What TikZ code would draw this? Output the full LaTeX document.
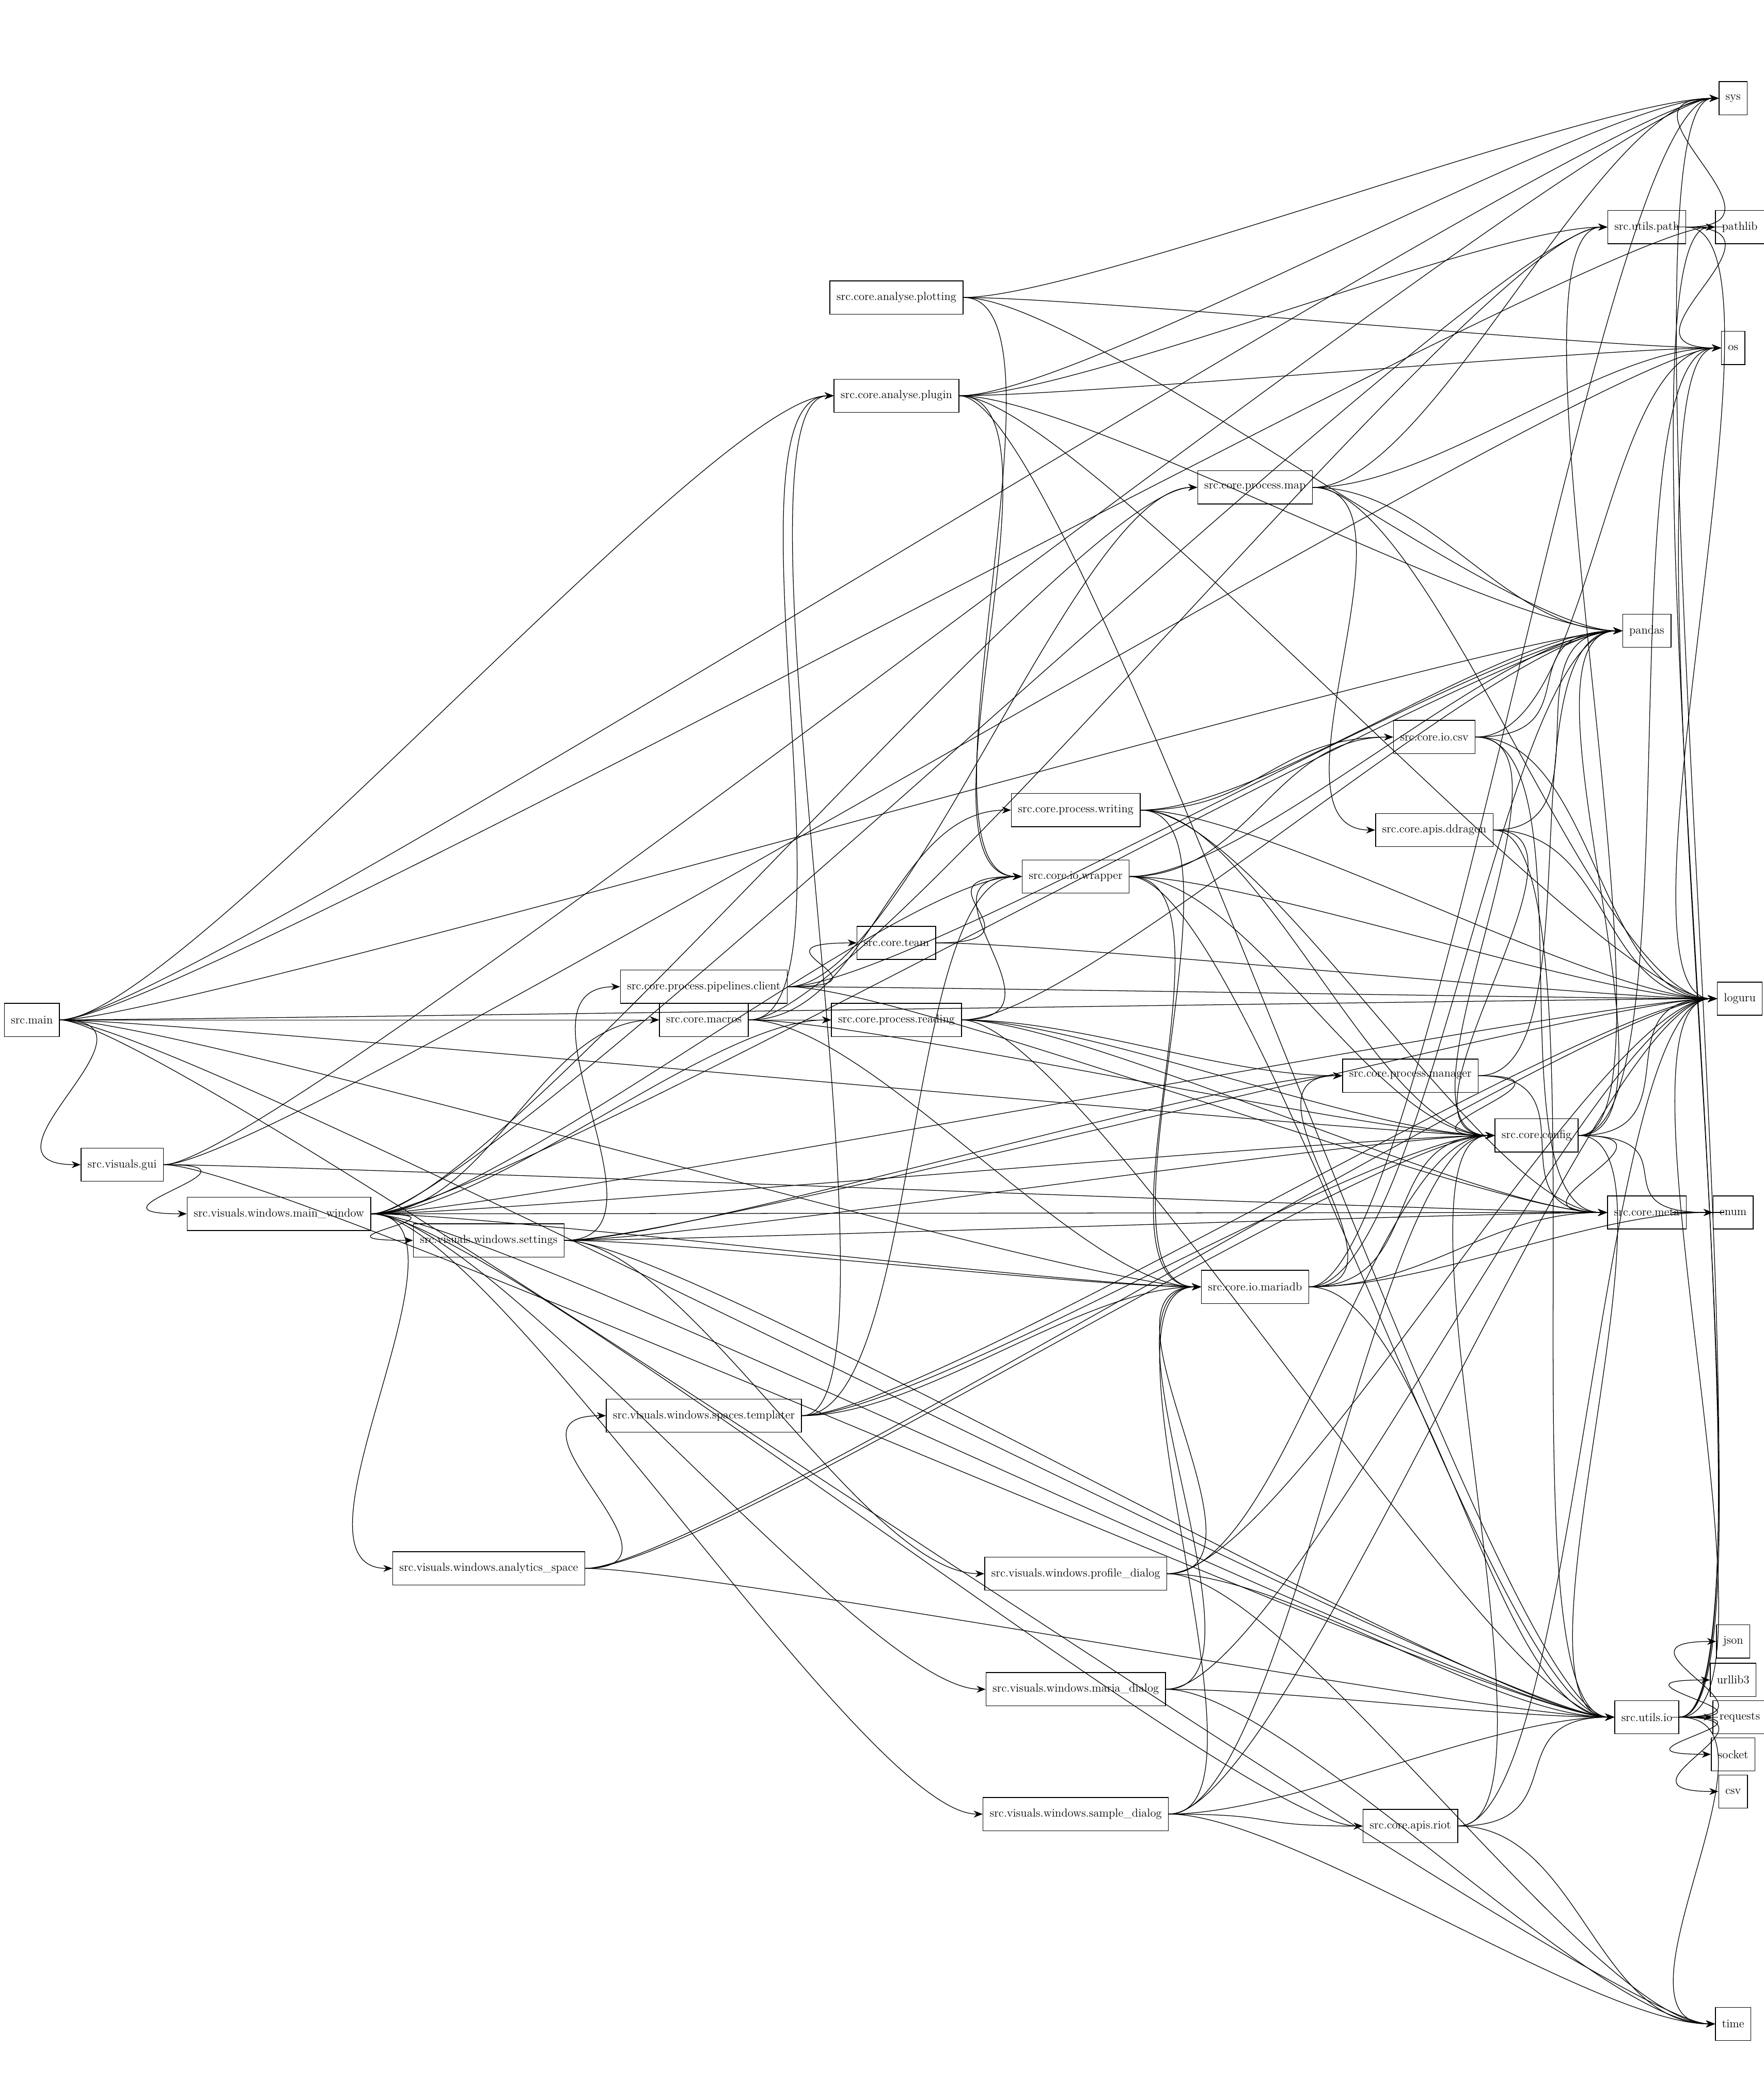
\documentclass[tikz,border=0pt]{standalone}
\usetikzlibrary{arrows.meta}
\begin{document}
\begin{tikzpicture}[x=0.05cm,y=-0.05cm,
  nd/.style={draw,line width=0.8pt,font=\fontsize{12.5}{14}\selectfont,minimum height=1.25cm,inner xsep=0.25cm},
  e/.style={line width=0.7pt,-{Stealth[length=0.34cm,width=0.26cm]}}]
\useasboundingbox (0,0) rectangle (1328,1567);
\node[nd] (main) at (24,768) {src.main};
\node[nd] (gui) at (92,877) {src.visuals.gui};
\node[nd] (mw) at (210,914) {src.visuals.windows.main\_window};
\node[nd] (set) at (368,934) {src.visuals.windows.settings};
\node[nd] (mac) at (530,768) {src.core.macros};
\node[nd] (pcl) at (530,743) {src.core.process.pipelines.client};
\node[nd] (rd) at (675,768) {src.core.process.reading};
\node[nd] (team) at (675,710) {src.core.team};
\node[nd] (wr) at (810,660) {src.core.io.wrapper};
\node[nd] (wri) at (810,610) {src.core.process.writing};
\node[nd] (plt) at (675,224) {src.core.analyse.plotting};
\node[nd] (plg) at (675,298) {src.core.analyse.plugin};
\node[nd] (map) at (945,367) {src.core.process.map};
\node[nd] (icsv) at (1080,555) {src.core.io.csv};
\node[nd] (dd) at (1080,625) {src.core.apis.ddragon};
\node[nd] (man) at (1062,810) {src.core.process.manager};
\node[nd] (cfg) at (1157,855) {src.core.config};
\node[nd] (mdb) at (945,969) {src.core.io.mariadb};
\node[nd] (meta) at (1240,913) {src.core.meta};
\node[nd] (up) at (1240,171) {src.utils.path};
\node[nd] (uio) at (1240,1293) {src.utils.io};
\node[nd] (tpl) at (530,1066) {src.visuals.windows.spaces.templater};
\node[nd] (ana) at (368,1181) {src.visuals.windows.analytics\_space};
\node[nd] (pd) at (810,1185) {src.visuals.windows.profile\_dialog};
\node[nd] (md) at (810,1272) {src.visuals.windows.maria\_dialog};
\node[nd] (sd) at (810,1366) {src.visuals.windows.sample\_dialog};
\node[nd] (riot) at (1062,1375) {src.core.apis.riot};
\node[nd] (sys) at (1305,74) {sys};
\node[nd] (pl) at (1310,171) {pathlib};
\node[nd] (os) at (1305,262) {os};
\node[nd] (pd2) at (1240,475) {pandas};
\node[nd] (lg) at (1310,752) {loguru};
\node[nd] (en) at (1305,913) {enum};
\node[nd] (js) at (1305,1236) {json};
\node[nd] (ul) at (1305,1265) {urllib3};
\node[nd] (rq) at (1310,1293) {requests};
\node[nd] (so) at (1305,1321) {socket};
\node[nd] (cs) at (1305,1349) {csv};
\node[nd] (tm) at (1305,1524) {time};
\foreach \a/\b in {main/sys,main/pl,main/pd2,main/plg,main/mac,main/gui,main/mdb,main/uio,main/lg,main/tm,main/cfg,
 gui/sys,gui/os,gui/mw,gui/meta,gui/uio,
 mw/up,mw/lg,mw/map,mw/pd2,mw/wr,mw/cfg,mw/mac,mw/rd,mw/set,mw/mdb,mw/ana,mw/md,mw/sd,mw/riot,mw/uio,mw/meta,
 set/pcl,set/man,set/meta,set/mdb,set/pd,set/cfg,set/uio,set/lg,
 mac/up,mac/plg,mac/rd,mac/mdb,mac/cfg,mac/wri,
 pcl/team,pcl/lg,pcl/meta,pcl/map,pcl/pd2,
 rd/wr,rd/man,rd/cfg,rd/meta,rd/pd2,rd/uio,
 team/wr,team/lg,
 wr/icsv,wr/mdb,wr/cfg,wr/pd2,wr/lg,wr/uio,
 wri/icsv,wri/pd2,wri/mdb,wri/cfg,wri/meta,wri/lg,
 plt/sys,plt/os,plt/pd2,plt/wr,
 plg/sys,plg/up,plg/os,plg/lg,plg/pd2,plg/wr,plg/uio,
 map/sys,map/os,map/pd2,map/lg,map/dd,
 icsv/pd2,icsv/os,icsv/lg,icsv/cfg,icsv/meta,
 dd/pd2,dd/cfg,dd/lg,dd/uio,
 man/cfg,man/meta,man/pd2,
 cfg/up,cfg/pd2,cfg/lg,cfg/meta,cfg/en,cfg/uio,cfg/os,
 mdb/sys,mdb/man,mdb/cfg,mdb/meta,mdb/uio,mdb/en,mdb/pd2,
 meta/en,
 up/sys,up/pl,up/os,up/lg,
 uio/sys,uio/os,uio/lg,uio/js,uio/ul,uio/rq,uio/so,uio/cs,uio/tm,uio/pl,
 tpl/plg,tpl/wr,tpl/mdb,tpl/cfg,tpl/lg,
 ana/tpl,ana/cfg,ana/lg,ana/uio,
 pd/mdb,pd/cfg,pd/uio,pd/lg,pd/tm,
 md/mdb,md/uio,md/lg,md/tm,
 sd/mdb,sd/cfg,sd/riot,sd/uio,sd/lg,sd/tm,
 riot/cfg,riot/uio,riot/lg,riot/tm}
 \draw[e] (\a.east) .. controls +(90,0) and +(-90,0) .. (\b.west);
\end{tikzpicture}
\end{document}
